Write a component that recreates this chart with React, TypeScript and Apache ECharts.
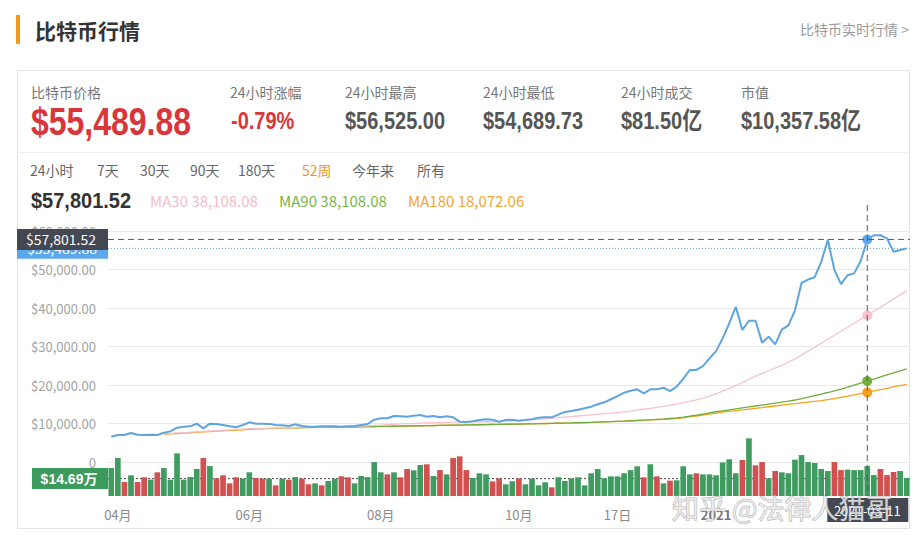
import React, { useEffect, useRef } from "react";
import * as echarts from "echarts";

const pageTitle = "比特币行情";
const pageLink = "比特币实时行情 >";
const statLabels = ["比特币价格", "24小时涨幅", "24小时最高", "24小时最低", "24小时成交", "市值"];
const statValues = ["$55,489.88", "-0.79%", "$56,525.00", "$54,689.73", "$81.50亿", "$10,357.58亿"];
const rangeTabs = ["24小时", "7天", "30天", "90天", "180天", "52周", "今年来", "所有"];
const activeTab = "52周";
const headlinePrice = "$57,801.52";
const legendLabels = ["MA30 38,108.08", "MA90 38,108.08", "MA180 18,072.06"];
const xTickLabels = [
  { index: 1, text: "04月", bold: false },
  { index: 21, text: "06月", bold: false },
  { index: 41, text: "08月", bold: false },
  { index: 62, text: "10月", bold: false },
  { index: 77, text: "17日", bold: false },
  { index: 92, text: "2021", bold: true },
];
const crosshairIndex = 115;
const crosshairDate = "2021-03-11";
const crosshairPriceLabel = "$57,801.52";
const currentPrice = 55489.88;
const currentPriceLabel = "$55,489.88";
const averageVolume = 14.69;
const averageVolumeLabel = "$14.69万";
const watermark = "知乎 @法律人猫哥";

const priceValues = [
  6570, 7010, 7010, 7530, 7100, 7010, 7100, 7010, 7600, 7960,
  8900, 9170, 9260, 9960, 8740, 9960, 9870, 9610, 9260, 9000,
  9610, 10300, 9960, 9960, 9900, 9610, 9530, 9350, 9790, 9350,
  9170, 9170, 9260, 9260, 9260, 9170, 9260, 9350, 9610, 9870,
  11000, 11350, 11350, 11950, 11860, 11770, 12030, 12200, 11770, 11950,
  11600, 11860, 11600, 10470, 10390, 10560, 10900, 11080, 10990, 10470,
  10900, 10990, 10730, 10900, 11080, 11520, 11600, 11600, 12290, 13000,
  13240, 13590, 13940, 14370, 15000, 15500, 16300, 17100, 18000, 18500,
  18880, 17840, 18880, 18880, 19300, 18400, 19560, 21600, 23900, 23900,
  24900, 26900, 28800, 32100, 36000, 40300, 34300, 36700, 36700, 31000,
  32550, 30570, 34400, 35500, 39400, 46500, 47400, 48000, 52000, 57700,
  49900, 46200, 48500, 49000, 52200, 57801.52, 58900, 58900, 58100, 54600,
  55060, 55489.88,
];

const ma30Values = [
  null, null, null, null, null, null, null, null,
  7300, 7400, 7550, 7650, 7750, 7850, 7950, 8050, 8150, 8250,
  8350, 8450, 8550, 8650, 8700, 8750, 8800, 8850, 8900, 8950,
  9000, 9050, 9100, 9100, 9150, 9150, 9200, 9200, 9250, 9300,
  9350, 9400, 9500, 9600, 9700, 9800, 9900, 9950, 10000, 10100,
  10150, 10200, 10250, 10300, 10350, 10400, 10400, 10400, 10450, 10450,
  10450, 10500, 10600, 10700, 10800, 10900, 11000, 11100, 11200, 11350,
  11500, 11650, 11800, 11950, 12100, 12250, 12400, 12550, 12700, 12850,
  13000, 13200, 13450, 13700, 13950, 14200, 14450, 14750, 15050, 15400,
  15750, 16150, 16600, 17100, 17700, 18400, 19100, 19800, 20600, 21500,
  22300, 23000, 23700, 24400, 25100, 25900, 26800, 27760, 28800, 29830,
  30870, 31900, 32930, 33970, 35000, 36040, 37070, 38108.08, 39150, 40200,
  41250, 42300, 43400, 44500,
];

const ma90Values = [
  null, null, null, null, null, null, null, null, null, null,
  null, null, null, null, null, null, null, null, null, null,
  null, null, null, null, null, null, null, null,
  8900, 8950, 9000, 9020, 9040, 9060, 9080, 9100, 9120, 9140,
  9160, 9180, 9200, 9230, 9260, 9290, 9320, 9350, 9380, 9410,
  9440, 9470, 9500, 9530, 9560, 9590, 9620, 9650, 9680, 9710,
  9740, 9770, 9800, 9830, 9860, 9890, 9920, 9950, 9990, 10030,
  10070, 10110, 10150, 10200, 10250, 10300, 10360, 10420, 10480, 10550,
  10620, 10700, 10780, 10860, 10950, 11050, 11150, 11300, 11450, 11650,
  11900, 12150, 12450, 12750, 13050, 13300, 13550, 13800, 14050, 14300,
  14550, 14800, 15050, 15300, 15550, 15800, 16100, 16450, 16850, 17250,
  17650, 18050, 18500, 18950, 19450, 19950, 20500, 21040, 21550, 22100,
  22650, 23150, 23650, 24160,
];

const ma180Values = [
  null, null, null, null, null, null, null, null,
  7200, 7300, 7400, 7500, 7600, 7700, 7800, 7900, 8000, 8100,
  8200, 8300, 8380, 8460, 8540, 8600, 8660, 8720, 8780, 8830,
  8880, 8920, 8960, 9000, 9030, 9060, 9090, 9110, 9130, 9150,
  9170, 9190, 9210, 9240, 9270, 9300, 9330, 9360, 9390, 9420,
  9450, 9480, 9510, 9540, 9570, 9600, 9630, 9660, 9690, 9720,
  9750, 9780, 9810, 9840, 9870, 9900, 9930, 9960, 10000, 10040,
  10080, 10120, 10160, 10210, 10260, 10310, 10370, 10430, 10500, 10570,
  10640, 10710, 10780, 10860, 10940, 11020, 11100, 11200, 11300, 11450,
  11700, 11950, 12200, 12450, 12700, 12950, 13150, 13350, 13550, 13750,
  13950, 14150, 14350, 14550, 14750, 14950, 15150, 15350, 15550, 15750,
  15950, 16200, 16450, 16800, 17100, 17450, 17750, 18072.06, 18450, 18800,
  19150, 19500, 19850, 20180,
];

// volume in 万
const volumeValues = [
  23.6, 32.1, 11.8, 17.5, 11.8, 15.8, 13.8, 20.0, 23.6, 13.8,
  36.0, 13.8, 16.0, 22.8, 32.1, 25.3, 14.9, 17.5, 10.7, 15.8,
  14.7, 20.0, 15.2, 14.7, 14.7, 9.0, 14.7, 13.8, 16.0, 14.7,
  9.9, 10.7, 9.0, 12.7, 14.7, 16.6, 15.8, 10.7, 16.9, 16.0,
  28.7, 20.0, 18.3, 20.0, 15.8, 22.8, 21.7, 26.2, 26.8, 16.9,
  21.9, 18.3, 32.1, 33.5, 21.9, 15.2, 19.2, 18.3, 12.4, 14.9,
  9.9, 12.4, 14.9, 9.9, 14.7, 9.0, 11.6, 7.3, 15.8, 12.7,
  14.9, 15.8, 9.0, 19.2, 22.8, 14.9, 16.6, 16.6, 19.2, 21.9,
  25.1, 15.8, 26.8, 16.6, 10.7, 13.0, 13.3, 25.1, 18.3, 19.2,
  18.3, 18.3, 17.5, 28.4, 31.0, 19.2, 30.4, 48.7, 25.9, 28.7,
  14.9, 21.1, 20.0, 19.2, 30.7, 34.6, 28.7, 27.9, 22.8, 21.1,
  28.7, 21.9, 22.3, 21.9, 21.9, 25.3, 17.7, 22.8, 17.7, 20.3,
  21.1, 15.2,
];
// R = red bar, G = green bar
const volumeColorKeys = (
  "GGRGRRGRGG" + "GGGGRGRRRR" + "GGRRGRGRGR" + "RGRGGRRGGG" +
  "GGRGRRGGRG" + "RGRRRGGGRR" + "GGRGGGGRGG" + "GGGGGGGGGG" +
  "GRGRGRGGGR" + "GGGGGGRGRR" + "GRGGGGGGGG" + "RRGGGGGRRR" + "GG"
).split("");

const CJK = "'Noto Sans CJK SC', 'Noto Sans', sans-serif";
const NUM = "'Liberation Sans', Arial, sans-serif";

export default function App() {
  const ref = useRef<HTMLDivElement>(null);

  useEffect(() => {
    const el = ref.current!;
    const chart = echarts.init(el, undefined, { renderer: "svg", width: 922, height: 542 });

    const gridLeft = 108;
    const gridRight = 12;
    const cats = priceValues.map((_, i) => String(i));
    const tickMap = new Map(xTickLabels.map((t) => [t.index, t]));
    const green = "#3f9b5f";
    const red = "#d2504f";

    const dotSize = (_v: any, p: any) => (p.dataIndex === crosshairIndex ? 10 : 0);

    chart.setOption({
      animation: false,
      backgroundColor: "#ffffff",
      grid: [
        { left: gridLeft, right: gridRight, top: 231, height: 231 },
        { left: gridLeft, right: gridRight, top: 425, height: 71 },
      ],
      xAxis: [
        {
          type: "category", gridIndex: 0, data: cats, boundaryGap: true,
          axisLine: { show: false }, axisTick: { show: false }, axisLabel: { show: false },
          splitLine: { show: false },
        },
        {
          type: "category", gridIndex: 1, data: cats, boundaryGap: true,
          axisLine: { show: false }, axisTick: { show: false }, splitLine: { show: false },
          axisLabel: {
            show: true,
            interval: (index: number) => tickMap.has(index),
            formatter: (_v: string, index: number) => {
              const t = tickMap.get(index);
              if (!t) return "";
              return t.bold ? "{b|" + t.text + "}" : "{n|" + t.text + "}";
            },
            margin: 12,
            rich: {
              n: { color: "#8a8a8a", fontSize: 13, fontFamily: CJK },
              b: { color: "#777", fontSize: 13, fontFamily: CJK, fontWeight: "bold" },
            },
          },
        },
      ],
      yAxis: [
        {
          type: "value", gridIndex: 0, min: 0, max: 60000, interval: 10000,
          axisLine: { show: false }, axisTick: { show: false },
          splitLine: { lineStyle: { color: "#e8e8e8", width: 1 } },
          axisLabel: {
            margin: 12, color: "#a3a3a3", fontSize: 13, fontFamily: CJK,
            formatter: (v: number) =>
              v === 0 ? "0" : "$" + v.toLocaleString("en-US", { minimumFractionDigits: 2, maximumFractionDigits: 2 }),
          },
        },
        {
          type: "value", gridIndex: 1, min: 0, max: 60, show: false,
          splitLine: { show: false },
        },
      ],
      series: [
        {
          type: "bar", name: "volume", xAxisIndex: 1, yAxisIndex: 1, barCategoryGap: "14%",
          data: volumeValues.map((v, i) => ({
            value: v,
            itemStyle: { color: volumeColorKeys[i] === "R" ? red : green },
          })),
          z: 2,
        },
        {
          type: "line", name: "MA180", data: ma180Values, xAxisIndex: 0, yAxisIndex: 0,
          lineStyle: { color: "#f0a41e", width: 1.3 }, itemStyle: { color: "#f7a21b" },
          symbol: "circle", symbolSize: dotSize, showSymbol: true, showAllSymbol: true, z: 3,
        },
        {
          type: "line", name: "MA90", data: ma90Values, xAxisIndex: 0, yAxisIndex: 0,
          lineStyle: { color: "#6fae3c", width: 1.3 }, itemStyle: { color: "#72b23a" },
          symbol: "circle", symbolSize: dotSize, showSymbol: true, showAllSymbol: true, z: 3,
        },
        {
          type: "line", name: "MA30", data: ma30Values, xAxisIndex: 0, yAxisIndex: 0,
          lineStyle: { color: "#f5c3cd", width: 1.3 }, itemStyle: { color: "#f8c2cc" },
          symbol: "circle", symbolSize: dotSize, showSymbol: true, showAllSymbol: true, z: 3,
        },
        {
          type: "line", name: "price", data: priceValues, xAxisIndex: 0, yAxisIndex: 0,
          lineStyle: { color: "#5ea5dd", width: 2 }, itemStyle: { color: "#5aa9ee" },
          symbol: "circle", symbolSize: dotSize, showSymbol: true, showAllSymbol: true, z: 4,
        },
      ],
    });

    const [cx, cy] = chart.convertToPixel({ gridIndex: 0 }, [crosshairIndex, priceValues[crosshairIndex]]) as number[];
    const py = chart.convertToPixel({ yAxisIndex: 0 }, currentPrice) as number;
    const vy = chart.convertToPixel({ yAxisIndex: 1 }, averageVolume) as number;
    const vBottom = chart.convertToPixel({ yAxisIndex: 1 }, 0) as number;
    const xL = gridLeft;
    const xR = 922 - gridRight;

    const statX = [31, 230, 345, 483, 621, 741];
    const tabX = [30, 97, 140, 190, 238, 302, 352, 417];
    const legendX = [150, 279, 408];
    const legendColors = ["#f4bccb", "#79b64a", "#f0a631"];

    const g: any[] = [];
    // frame
    g.push({ type: "rect", silent: true, z: 0, shape: { x: 17.5, y: 70.5, width: 892, height: 458 }, style: { fill: "none", stroke: "#e4e4e4", lineWidth: 1 } });
    g.push({ type: "line", silent: true, z: 0, shape: { x1: 18, y1: 152.5, x2: 909, y2: 152.5 }, style: { stroke: "#efefef", lineWidth: 1 } });
    // title
    g.push({ type: "rect", silent: true, shape: { x: 16, y: 15, width: 4, height: 29 }, style: { fill: "#f39a1e" } });
    g.push({ type: "text", silent: true, x: 35, y: 30, style: { text: pageTitle, fontSize: 21, fontWeight: "bold", fontFamily: CJK, fill: "#333", align: "left", verticalAlign: "middle" } });
    g.push({ type: "text", silent: true, x: 909, y: 29, style: { text: pageLink, fontSize: 14, fontFamily: CJK, fill: "#9a9a9a", align: "right", verticalAlign: "middle" } });
    // stats
    statLabels.forEach((t, i) => {
      g.push({ type: "text", silent: true, x: statX[i], y: 92, style: { text: t, fontSize: 14, fontFamily: CJK, fill: "#777", align: "left", verticalAlign: "middle" } });
    });
    statValues.forEach((t, i) => {
      const big = i === 0;
      const color = i <= 1 ? "#d9363b" : "#555";
      g.push({
        type: "text", silent: true, x: statX[i] + (i === 1 ? 1 : 0), y: 121, scaleY: big ? 1.2 : 1.22,
        style: { text: t, fontSize: big ? 32 : 20, fontWeight: "bold", fontFamily: NUM + ", " + CJK, fill: color, align: "left", verticalAlign: "middle" },
      });
    });
    // tabs
    rangeTabs.forEach((t, i) => {
      g.push({ type: "text", silent: true, x: tabX[i], y: 170, style: { text: t, fontSize: 14, fontFamily: CJK, fill: t === activeTab ? "#e99b2c" : "#666", align: "left", verticalAlign: "middle" } });
    });
    // legend row
    g.push({ type: "text", silent: true, x: 31, y: 200, scaleY: 1.1, style: { text: headlinePrice, fontSize: 20, fontWeight: "bold", fontFamily: NUM, fill: "#333", align: "left", verticalAlign: "middle" } });
    legendLabels.forEach((t, i) => {
      g.push({ type: "text", silent: true, x: legendX[i], y: 200, style: { text: t, fontSize: 15, fontFamily: CJK, fill: legendColors[i], align: "left", verticalAlign: "middle" } });
    });
    // average volume dotted line (under bars)
    g.push({ type: "line", silent: true, z: 1, shape: { x1: xL, y1: vy, x2: xR, y2: vy }, style: { stroke: "#444", lineWidth: 1, lineDash: [2, 2] } });
    g.push({ type: "rect", silent: true, z: 10, shape: { x: 32, y: vy - 10.5, width: 76, height: 21 }, style: { fill: "#3d9a5d" } });
    g.push({ type: "text", silent: true, z: 11, x: 69, y: vy, style: { text: averageVolumeLabel, fontSize: 14, fontWeight: "bold", fontFamily: NUM + ", " + CJK, fill: "#fff", align: "center", verticalAlign: "middle" } });
    // current price line + label
    g.push({ type: "line", silent: true, z: 10, shape: { x1: xL, y1: py, x2: xR, y2: py }, style: { stroke: "#5b9fd8", lineWidth: 1, lineDash: [1, 2] } });
    g.push({ type: "rect", silent: true, z: 10, shape: { x: 17, y: py - 10.5, width: 91, height: 21 }, style: { fill: "#5ba8ea" } });
    g.push({ type: "text", silent: true, z: 11, x: 62, y: py, style: { text: currentPriceLabel, fontSize: 14, fontFamily: CJK, fill: "#fff", align: "center", verticalAlign: "middle" } });
    // crosshair
    g.push({ type: "line", silent: true, z: 12, shape: { x1: xL, y1: cy, x2: xR, y2: cy }, style: { stroke: "#5a5a5a", lineWidth: 1, lineDash: [6, 4] } });
    g.push({ type: "line", silent: true, z: 12, shape: { x1: cx, y1: 205, x2: cx, y2: vBottom }, style: { stroke: "#5a5a5a", lineWidth: 1, lineDash: [6, 4] } });
    g.push({ type: "rect", silent: true, z: 13, shape: { x: 17, y: cy - 10.5, width: 91, height: 21 }, style: { fill: "#434852" } });
    g.push({ type: "text", silent: true, z: 14, x: 61, y: cy, style: { text: crosshairPriceLabel, fontSize: 14, fontFamily: CJK, fill: "#fff", align: "center", verticalAlign: "middle" } });
    g.push({ type: "rect", silent: true, z: 13, shape: { x: cx - 40, y: vBottom + 2, width: 81, height: 24 }, style: { fill: "#434852" } });
    g.push({ type: "text", silent: true, z: 14, x: cx, y: vBottom + 14, style: { text: crosshairDate, fontSize: 13, fontFamily: CJK, fill: "#fff", align: "center", verticalAlign: "middle" } });
    // watermark
    g.push({ type: "text", silent: true, z: 20, x: 672, y: 507, style: { text: watermark, fontSize: 27, fontFamily: CJK, fill: "rgba(236,236,236,0.85)", stroke: "rgba(110,110,110,0.55)", lineWidth: 1, align: "left", verticalAlign: "middle" } });

    chart.setOption({ graphic: g });

    return () => chart.dispose();
  }, []);

  return (
    <div
      ref={ref}
      style={{ position: "fixed", left: 0, top: 0, width: 922, height: 542, background: "#fff" }}
    />
  );
}
